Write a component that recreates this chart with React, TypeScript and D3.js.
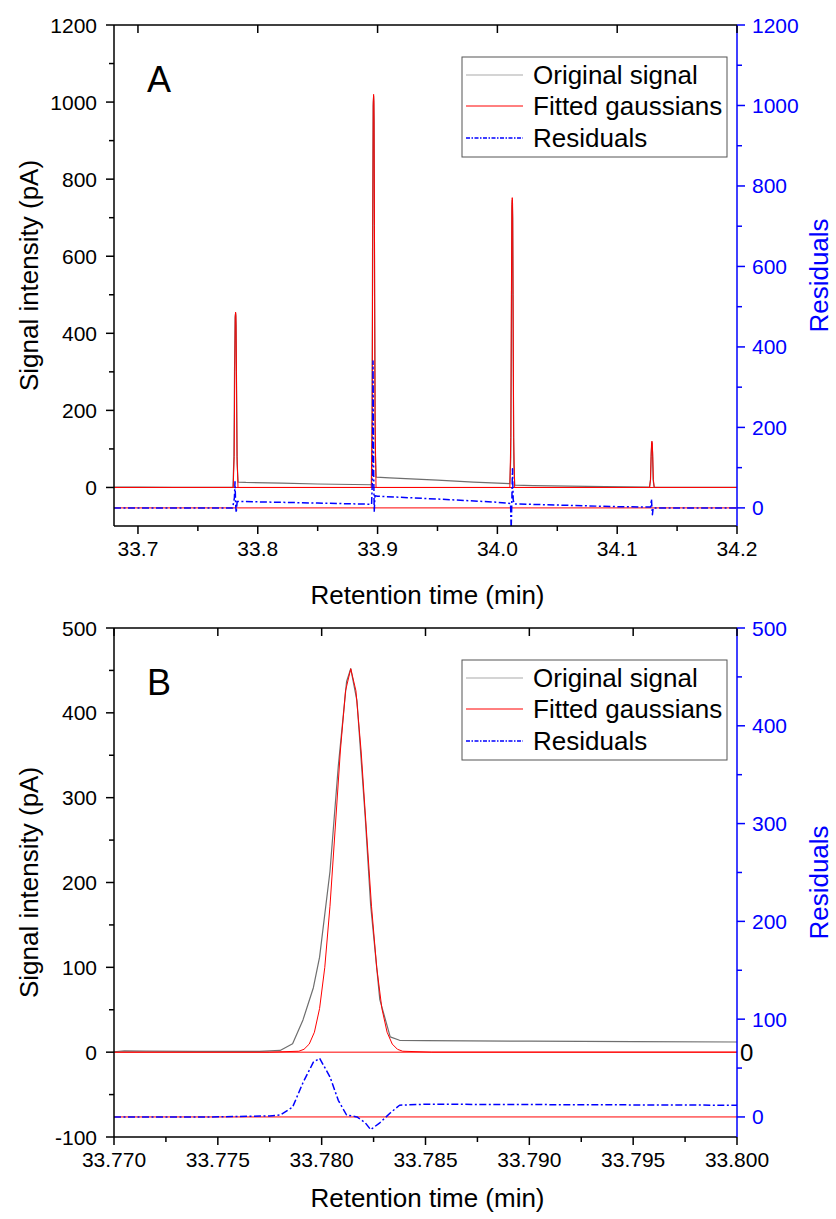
import React from 'react';
import * as d3 from 'd3';

type P = [number, number];

// ---------- Panel A data (time in min, value) ----------
const aOriginal: P[] = [
  [33.68, 0.8], [33.70, 1], [33.73, 0.6], [33.76, 0.3], [33.7793, 0.3], [33.7801, 80], [33.7806, 300], [33.7811, 440], [33.7815, 452],
  [33.7819, 420], [33.7823, 250], [33.7828, 60], [33.7836, 14], [33.79, 13], [33.82, 11], [33.85, 9], [33.895, 7],
  [33.8953, 60], [33.8958, 600], [33.8963, 990], [33.8967, 1015], [33.8971, 950], [33.8975, 500], [33.8981, 90], [33.8988, 27],
  [33.91, 25], [33.95, 19], [33.98, 14], [34.0104, 10],
  [34.0112, 80], [34.0117, 400], [34.0121, 720], [34.0124, 745], [34.0128, 700], [34.0132, 350], [34.0137, 60], [34.0145, 6],
  [34.03, 5], [34.06, 3.5], [34.09, 2], [34.127, 1],
  [34.1278, 20], [34.1284, 90], [34.129, 118], [34.1295, 90], [34.13, 20], [34.1308, 0], [34.2, 0],
];
const aFitted: P[] = [
  [33.68, 0], [33.7795, 0], [33.7803, 80], [33.7808, 300], [33.7812, 445], [33.7815, 455], [33.7818, 445], [33.7822, 300], [33.7827, 80], [33.7835, 0],
  [33.8947, 0], [33.8955, 180], [33.896, 680], [33.8964, 1000], [33.8967, 1020], [33.897, 1000], [33.8974, 680], [33.8979, 180], [33.8987, 0],
  [34.0104, 0], [34.0112, 130], [34.0117, 500], [34.0121, 735], [34.0124, 752], [34.0127, 735], [34.0131, 500], [34.0136, 130], [34.0144, 0],
  [34.127, 0], [34.1278, 20], [34.1283, 80], [34.1287, 117], [34.129, 120], [34.1293, 117], [34.1297, 80], [34.1302, 20], [34.131, 0], [34.2, 0],
];
const aResiduals: P[] = [
  [33.68, 0], [33.779, 0], [33.7805, 25], [33.781, 65], [33.7815, 10], [33.782, -12], [33.7828, 16], [33.80, 15], [33.85, 12], [33.895, 9],
  [33.8958, 80], [33.8962, 365], [33.8967, 100], [33.8972, -10], [33.8978, 30], [33.90, 29], [33.95, 22], [34.0, 14], [34.011, 11],
  [34.0115, -55], [34.0121, 20], [34.0126, 97], [34.0132, 20], [34.014, 10], [34.05, 7], [34.1, 3], [34.128, 2],
  [34.1286, 22], [34.129, 0], [34.1294, -17], [34.130, 0], [34.2, 0],
];

// ---------- Panel B data ----------
const bOriginal: P[] = [
  [33.770, 0.5], [33.7705, 1.5], [33.7715, 1.2], [33.774, 1], [33.777, 1], [33.7780, 2], [33.7786, 10], [33.7791, 38], [33.7796, 76],
  [33.7799, 112], [33.7804, 213], [33.7808, 337], [33.7812, 437], [33.7814, 452], [33.7817, 414], [33.7821, 276], [33.78236, 173],
  [33.7828, 62], [33.7833, 18], [33.78375, 14], [33.785, 13.5], [33.790, 13], [33.795, 12.5], [33.800, 12],
];
const bFitted: P[] = [
  [33.770, 0], [33.7775, 0], [33.77890, 1.1], [33.77915, 3.4], [33.7794, 9.5], [33.77965, 23.5], [33.7799, 51.5], [33.78015, 100],
  [33.7804, 172], [33.78065, 263], [33.7809, 355], [33.78115, 426], [33.7814, 452], [33.78165, 426], [33.7819, 355],
  [33.78215, 263], [33.7824, 172], [33.78265, 100], [33.7829, 51.5], [33.78315, 23.5], [33.7834, 9.5], [33.78365, 3.4],
  [33.7839, 1.1], [33.7853, 0], [33.800, 0],
];
const bResiduals: P[] = [
  [33.770, 0], [33.7745, 0], [33.7775, 1], [33.7780, 2], [33.7786, 10], [33.7791, 35], [33.7796, 56], [33.7799, 60], [33.7804, 41],
  [33.7808, 17], [33.7812, 2], [33.7817, 0], [33.7821, -6], [33.78236, -13], [33.7828, -6], [33.7833, 4], [33.78375, 12],
  [33.785, 13], [33.800, 12],
];

// ---------- ticks ----------
const aXMajor = [33.7, 33.8, 33.9, 34.0, 34.1, 34.2];
const aXMinor = [33.75, 33.85, 33.95, 34.05, 34.15];
const aLeftMajor = [0, 200, 400, 600, 800, 1000, 1200];
const aLeftMinor = [100, 300, 500, 700, 900, 1100];
const aRightMajor = [0, 200, 400, 600, 800, 1000, 1200];
const aRightMinor = [100, 300, 500, 700, 900, 1100];
const bXMajor = [33.770, 33.775, 33.780, 33.785, 33.790, 33.795, 33.800];
const bXMinor = [33.7725, 33.7775, 33.7825, 33.7875, 33.7925, 33.7975];
const bLeftMajor = [-100, 0, 100, 200, 300, 400, 500];
const bLeftMinor = [-50, 50, 150, 250, 350, 450];
const bRightMajor = [0, 100, 200, 300, 400, 500];
const bRightMinor = [50, 150, 250, 350, 450];
const legendLabels = ['Original signal', 'Fitted gaussians', 'Residuals'];

const FONT = '"Liberation Sans", Arial, Helvetica, sans-serif';
const X0 = 114, X1 = 737;
const GRAY = '#6e6e6e', RED = '#ff0000', BLUE = '#0000ff';
const DASH = '7 2.5 2 2.5';

interface PanelProps {
  id: string; label: string; top: number; bottom: number; titleOffset: number;
  xDomain: [number, number]; leftDomain: [number, number]; rightDomain: [number, number];
  original: P[]; fitted: P[]; residuals: P[];
  xMajor: number[]; xMinor: number[]; lMajor: number[]; lMinor: number[]; rMajor: number[]; rMinor: number[];
  xFmt: (v: number) => string; legendTop: number; stray?: boolean;
}

function Panel(p: PanelProps) {
  const x = d3.scaleLinear().domain(p.xDomain).range([X0, X1]);
  const yl = d3.scaleLinear().domain(p.leftDomain).range([p.bottom, p.top]);
  const yr = d3.scaleLinear().domain(p.rightDomain).range([p.bottom, p.top]);
  const lineL = d3.line<P>().x(d => x(d[0])).y(d => yl(d[1]));
  const lineR = d3.line<P>().x(d => x(d[0])).y(d => yr(d[1]));
  const mid = (p.top + p.bottom) / 2;
  const lg = p.legendTop;
  const rows = [lg + 18, lg + 49, lg + 81];
  return (
    <g>
      <defs>
        <clipPath id={'clip' + p.id}>
          <rect x={X0} y={p.top} width={X1 - X0} height={p.bottom - p.top} />
        </clipPath>
      </defs>
      <g clipPath={`url(#clip${p.id})`} fill="none" strokeLinejoin="round">
        <line x1={X0} x2={X1} y1={yl(0)} y2={yl(0)} stroke={RED} strokeWidth={1} />
        <line x1={X0} x2={X1} y1={yr(0)} y2={yr(0)} stroke={RED} strokeWidth={1} />
        <path d={lineL(p.original) || ''} stroke={GRAY} strokeWidth={1.2} />
        <path d={lineL(p.fitted) || ''} stroke={RED} strokeWidth={1} />
        <path d={lineR(p.residuals) || ''} stroke={BLUE} strokeWidth={1.5} strokeDasharray={DASH} />
      </g>
      {/* frame */}
      <line x1={X0} x2={X1} y1={p.top} y2={p.top} stroke="#000" strokeWidth={1.5} />
      <line x1={X0} x2={X1} y1={p.bottom} y2={p.bottom} stroke="#000" strokeWidth={1.5} />
      <line x1={X0} x2={X0} y1={p.top} y2={p.bottom} stroke="#000" strokeWidth={1.5} />
      <line x1={X1} x2={X1} y1={p.top} y2={p.bottom} stroke={BLUE} strokeWidth={1.5} />
      {/* bottom ticks */}
      {p.xMajor.map(v => (
        <g key={'xm' + v}>
          <line x1={x(v)} x2={x(v)} y1={p.bottom} y2={p.bottom + 8} stroke="#000" strokeWidth={1.5} />
          <line x1={x(v)} x2={x(v)} y1={p.top} y2={p.top + 8} stroke="#000" strokeWidth={1.5} />
          <text x={x(v)} y={p.bottom + 30} textAnchor="middle" fontSize={21} fontFamily={FONT} fill="#000">{p.xFmt(v)}</text>
        </g>
      ))}
      {p.xMinor.map(v => (
        <line key={'xn' + v} x1={x(v)} x2={x(v)} y1={p.bottom} y2={p.bottom + 5} stroke="#000" strokeWidth={1.5} />
      ))}
      {/* left ticks */}
      {p.lMajor.map(v => (
        <g key={'lm' + v}>
          <line x1={X0 - 8} x2={X0} y1={yl(v)} y2={yl(v)} stroke="#000" strokeWidth={1.5} />
          <text x={X0 - 17} y={yl(v) + 7.5} textAnchor="end" fontSize={21} fontFamily={FONT} fill="#000">{v}</text>
        </g>
      ))}
      {p.lMinor.map(v => (
        <line key={'ln' + v} x1={X0 - 5} x2={X0} y1={yl(v)} y2={yl(v)} stroke="#000" strokeWidth={1.5} />
      ))}
      {/* right ticks */}
      {p.rMajor.map(v => (
        <g key={'rm' + v}>
          <line x1={X1} x2={X1 + 8} y1={yr(v)} y2={yr(v)} stroke={BLUE} strokeWidth={1.5} />
          <text x={X1 + 15} y={yr(v) + 7.5} textAnchor="start" fontSize={21} fontFamily={FONT} fill={BLUE}>{v}</text>
        </g>
      ))}
      {p.rMinor.map(v => (
        <line key={'rn' + v} x1={X1} x2={X1 + 5} y1={yr(v)} y2={yr(v)} stroke={BLUE} strokeWidth={1.5} />
      ))}
      {/* titles */}
      <text x={(X0 + X1) / 2 + 2} y={p.bottom + p.titleOffset} textAnchor="middle" fontSize={26} fontFamily={FONT} fill="#000">Retention time (min)</text>
      <text transform={`translate(38,${mid}) rotate(-90)`} textAnchor="middle" fontSize={26} fontFamily={FONT} fill="#000">Signal intensity (pA)</text>
      <text transform={`translate(828,${mid}) rotate(-90)`} textAnchor="middle" fontSize={26} fontFamily={FONT} fill={BLUE}>Residuals</text>
      <text x={147} y={p.top + 67} fontSize={36} fontFamily={FONT} fill="#000">{p.label}</text>
      {p.stray && (
        <text x={740} y={yl(0) + 9} fontSize={24} fontFamily={FONT} fill="#000">0</text>
      )}
      {/* legend */}
      <rect x={462} y={lg} width={265} height={100} fill="#fff" stroke="#555" strokeWidth={1} />
      <line x1={466} x2={523} y1={rows[0]} y2={rows[0]} stroke="#aaa" strokeWidth={1.2} />
      <line x1={466} x2={523} y1={rows[1]} y2={rows[1]} stroke={RED} strokeWidth={1} />
      <line x1={466} x2={523} y1={rows[2]} y2={rows[2]} stroke={BLUE} strokeWidth={1.3} strokeDasharray="4 1.5 1.5 1.5" />
      {legendLabels.map((t, i) => (
        <text key={t} x={533} y={rows[i] + 9} fontSize={26} fontFamily={FONT} fill="#000">{t}</text>
      ))}
    </g>
  );
}

export default function App() {
  return (
    <svg width={836} height={1219} viewBox="0 0 836 1219" style={{ position: 'absolute', left: 0, top: 0, background: '#fff' }}>
      <rect x={0} y={0} width={836} height={1219} fill="#fff" />
      <Panel id="A" label="A" top={25} bottom={526} titleOffset={78}
        xDomain={[33.68, 34.2]} leftDomain={[-100, 1200]} rightDomain={[-45, 1200]}
        original={aOriginal} fitted={aFitted} residuals={aResiduals}
        xMajor={aXMajor} xMinor={aXMinor} lMajor={aLeftMajor} lMinor={aLeftMinor} rMajor={aRightMajor} rMinor={aRightMinor}
        xFmt={v => v.toFixed(1)} legendTop={57} />
      <Panel id="B" label="B" top={628} bottom={1137} titleOffset={70}
        xDomain={[33.77, 33.8]} leftDomain={[-100, 500]} rightDomain={[-20.5, 500]}
        original={bOriginal} fitted={bFitted} residuals={bResiduals}
        xMajor={bXMajor} xMinor={bXMinor} lMajor={bLeftMajor} lMinor={bLeftMinor} rMajor={bRightMajor} rMinor={bRightMinor}
        xFmt={v => v.toFixed(3)} legendTop={660} stray />
    </svg>
  );
}
